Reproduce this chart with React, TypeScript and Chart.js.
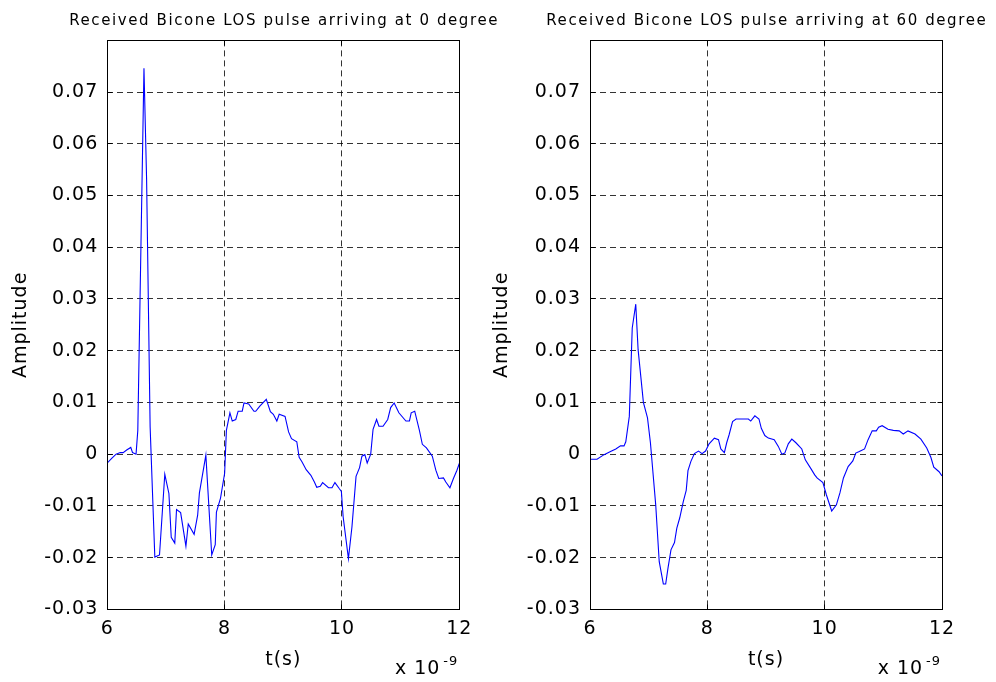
import React, { useEffect, useRef } from 'react';
import { Chart, registerables } from 'chart.js';

Chart.register(...registerables);

// ---- Data (time in units of 1e-9 s) ----
const tLeft = [
  6.0, 6.075, 6.15, 6.22, 6.27, 6.33, 6.4, 6.43, 6.49, 6.52, 6.625, 6.67, 6.73, 6.81, 6.89,
  6.98, 7.05, 7.09, 7.15, 7.18, 7.25, 7.34, 7.38, 7.48, 7.54, 7.57, 7.68, 7.78, 7.84, 7.86,
  7.93, 8.0, 8.03, 8.09, 8.13, 8.19, 8.23, 8.3, 8.33, 8.41, 8.5, 8.53, 8.6, 8.71, 8.78,
  8.83, 8.89, 8.93, 9.03, 9.09, 9.14, 9.23, 9.27, 9.32, 9.39, 9.47, 9.53, 9.57, 9.63, 9.67,
  9.77, 9.83, 9.88, 9.95, 9.99, 10.02, 10.11, 10.17, 10.24, 10.3, 10.34, 10.39, 10.43, 10.49, 10.53,
  10.59, 10.63, 10.7, 10.78, 10.83, 10.89, 10.97, 11.09, 11.15, 11.18, 11.24, 11.32, 11.37, 11.44, 11.54,
  11.6, 11.65, 11.73, 11.77, 11.84, 11.9, 11.96, 12.0,
];
const ampLeft = [
  -0.0017, -0.0008, 0.0, 0.0003, 0.0003, 0.0008, 0.0013, 0.0003, 0.0, 0.0046, 0.0746, 0.053, 0.0053, -0.0199, -0.0195,
  -0.0039, -0.0076, -0.0161, -0.0172, -0.0107, -0.0113, -0.0178, -0.0135, -0.0155, -0.0118, -0.0075, -0.0002, -0.0195, -0.0175, -0.0112,
  -0.0085, -0.0037, 0.0046, 0.008, 0.0064, 0.0067, 0.0083, 0.0083, 0.0099, 0.0097, 0.0083, 0.0083, 0.0093, 0.0106, 0.0082,
  0.0077, 0.0064, 0.0077, 0.0073, 0.0043, 0.003, 0.0024, -0.0006, -0.0015, -0.003, -0.0041, -0.0054, -0.0064, -0.0062, -0.0055,
  -0.0065, -0.0065, -0.0055, -0.0066, -0.0072, -0.0121, -0.0202, -0.0141, -0.0043, -0.0026, -0.0004, -0.0001, -0.0017, 0.0, 0.0048,
  0.0067, 0.0054, 0.0054, 0.0067, 0.009, 0.0099, 0.008, 0.0064, 0.0064, 0.008, 0.0083, 0.0046, 0.0019, 0.0012, -0.0004,
  -0.0031, -0.0047, -0.0046, -0.0054, -0.0065, -0.0047, -0.0031, -0.0018,
];

const tRight = [
  6.0, 6.12, 6.24, 6.35, 6.44, 6.52, 6.58, 6.61, 6.67, 6.72, 6.78, 6.82, 6.91, 6.98, 7.03,
  7.12, 7.18, 7.25, 7.29, 7.33, 7.38, 7.44, 7.48, 7.53, 7.59, 7.64, 7.67, 7.72, 7.78, 7.85,
  7.91, 7.97, 8.03, 8.12, 8.19, 8.23, 8.29, 8.33, 8.37, 8.43, 8.49, 8.7, 8.74, 8.81, 8.88,
  8.92, 8.98, 9.04, 9.14, 9.21, 9.27, 9.32, 9.38, 9.44, 9.51, 9.61, 9.67, 9.76, 9.83, 9.87,
  9.97, 10.03, 10.12, 10.2, 10.26, 10.32, 10.4, 10.48, 10.53, 10.59, 10.68, 10.74, 10.81, 10.88, 10.92,
  10.98, 11.08, 11.17, 11.27, 11.34, 11.42, 11.54, 11.64, 11.74, 11.81, 11.86, 11.95, 12.0,
];
const ampRight = [
  -0.001, -0.001, -0.0001, 0.0005, 0.001, 0.0016, 0.0016, 0.0024, 0.0073, 0.0244, 0.029, 0.0202, 0.01, 0.007, 0.0022,
  -0.0098, -0.0208, -0.0251, -0.0251, -0.022, -0.0185, -0.0171, -0.0143, -0.0123, -0.0092, -0.007, -0.0032, -0.0014, 0.0001, 0.0006,
  0.0001, 0.0006, 0.002, 0.0031, 0.0028, 0.001, 0.0003, 0.0022, 0.0037, 0.0063, 0.0068, 0.0068, 0.0064, 0.0074, 0.0068,
  0.005, 0.0036, 0.0031, 0.0028, 0.0015, 0.0, 0.0002, 0.002, 0.0029, 0.0022, 0.001, -0.0011, -0.0027, -0.004, -0.0046,
  -0.0055, -0.0079, -0.011, -0.0098, -0.0075, -0.0046, -0.0024, -0.0013, 0.0002, 0.0005, 0.001, 0.0028, 0.0045, 0.0045, 0.0052,
  0.0055, 0.0048, 0.0046, 0.0045, 0.0039, 0.0045, 0.0039, 0.0029, 0.0012, -0.0006, -0.0025, -0.0034, -0.0042,
];

const xTickValues = [6, 8, 10, 12];
const xTickLabels = ['6', '8', '10', '12'];
const yTickValues = [-0.03, -0.02, -0.01, 0, 0.01, 0.02, 0.03, 0.04, 0.05, 0.06, 0.07, 0.08];
const yTickLabels = ['-0.03', '-0.02', '-0.01', '0', '0.01', '0.02', '0.03', '0.04', '0.05', '0.06', '0.07', ''];
const titles = ['Received Bicone LOS pulse arriving at 0 degree', 'Received Bicone LOS pulse arriving at 60 degree'];
const xLabel = 't(s)';
const yLabel = 'Amplitude';
const expBase = 'x 10';
const expPower = '-9';

const FONT = '"DejaVu Sans", "Liberation Sans", Arial, sans-serif';

const align = (p: number) => Math.round(p + 0.5) - 0.5;

const matlabPlugin = {
  id: 'matlab',
  beforeDraw(chart: any) {
    (chart.ctx as any).letterSpacing = '1px';
  },
  afterDraw(chart: any, _args: any, opts: any) {
    const ctx = chart.ctx;
    const ca = chart.chartArea;
    const xs = chart.scales.x;
    const ys = chart.scales.y;
    const L = align(ca.left), R = align(ca.right), T = align(ca.top), B = align(ca.bottom);
    ctx.save();
    ctx.setLineDash([]);
    ctx.strokeStyle = '#000';
    ctx.lineWidth = 1;
    ctx.beginPath();
    ys.ticks.forEach((tk: any) => {
      const y = align(ys.getPixelForValue(tk.value));
      ctx.moveTo(L, y); ctx.lineTo(L + 5, y);
      ctx.moveTo(R, y); ctx.lineTo(R - 5, y);
    });
    xs.ticks.forEach((tk: any) => {
      const x = align(xs.getPixelForValue(tk.value));
      ctx.moveTo(x, B); ctx.lineTo(x, B - 5);
      ctx.moveTo(x, T); ctx.lineTo(x, T + 5);
    });
    ctx.stroke();
    ctx.strokeRect(L, T, R - L, B - T);

    ctx.fillStyle = '#000';
    // title
    (ctx as any).letterSpacing = '1.6px';
    ctx.font = `15px ${FONT}`;
    ctx.textAlign = 'center';
    ctx.textBaseline = 'alphabetic';
    ctx.fillText(opts.title, (ca.left + ca.right) / 2 + 0.8, 24.5);
    // exponent label
    (ctx as any).letterSpacing = '1px';
    ctx.textAlign = 'left';
    ctx.font = `19px ${FONT}`;
    ctx.fillText(expBase, ca.right - 64.3, ca.bottom + 64.7);
    ctx.font = `13px ${FONT}`;
    ctx.fillText(expPower, ca.right - 16, ca.bottom + 55.5);
    ctx.restore();
  },
};

function buildConfig(ts: number[], as: number[], title: string, padLeft: number, padRight: number, yWidth: number, yTitlePad: number): any {
  const gridColor = 'rgba(0,0,0,0.8)';
  return {
    type: 'line',
    data: {
      datasets: [
        {
          data: ts.map((t, i) => ({ x: t, y: as[i] })),
          borderColor: '#0000ff',
          borderWidth: 1.1,
          pointRadius: 0,
          tension: 0,
          fill: false,
        },
      ],
    },
    options: {
      animation: false,
      responsive: false,
      events: [],
      layout: { padding: { left: padLeft, right: padRight, top: 40.4, bottom: 0 } },
      plugins: {
        legend: { display: false },
        tooltip: { enabled: false },
        title: { display: false },
        matlab: { title },
      },
      scales: {
        x: {
          type: 'linear',
          min: 6,
          max: 12,
          afterBuildTicks: (s: any) => {
            s.ticks = xTickValues.map((v) => ({ value: v }));
          },
          afterFit: (s: any) => {
            s.height = 72.7;
          },
          grid: { color: gridColor, lineWidth: 1, drawTicks: false },
          border: { display: false, dash: [6, 4] },
          ticks: {
            padding: 8,
            color: '#000',
            font: { family: FONT, size: 19 },
            maxRotation: 0,
            autoSkip: false,
            callback: (_v: any, i: number) => xTickLabels[i],
          },
          title: {
            display: true,
            text: xLabel,
            color: '#000',
            font: { family: FONT, size: 19 },
            padding: { top: 0, bottom: 10.6 },
          },
        },
        y: {
          type: 'linear',
          min: -0.03,
          max: 0.08,
          afterBuildTicks: (s: any) => {
            s.ticks = yTickValues.map((v) => ({ value: v }));
          },
          afterFit: (s: any) => {
            s.width = yWidth;
          },
          grid: { color: gridColor, lineWidth: 1, drawTicks: false },
          border: { display: false, dash: [6, 4] },
          ticks: {
            padding: 9,
            color: '#000',
            font: { family: FONT, size: 19 },
            autoSkip: false,
            callback: (_v: any, i: number) => yTickLabels[i],
          },
          title: {
            display: true,
            text: yLabel,
            color: '#000',
            font: { family: FONT, size: 19 },
            padding: { top: yTitlePad, bottom: 0 },
          },
        },
      },
    },
    plugins: [matlabPlugin],
  };
}

export default function App() {
  const leftRef = useRef<HTMLCanvasElement>(null);
  const rightRef = useRef<HTMLCanvasElement>(null);

  useEffect(() => {
    const c1 = new Chart(leftRef.current as HTMLCanvasElement, buildConfig(tLeft, ampLeft, titles[0], 0, 536.7, 107.3, 9.6));
    const c2 = new Chart(rightRef.current as HTMLCanvasElement, buildConfig(tRight, ampRight, titles[1], 480, 54, 110, 10.6));
    return () => {
      c1.destroy();
      c2.destroy();
    };
  }, []);

  const cs: React.CSSProperties = { position: 'absolute', left: 0, top: 0, width: 996, height: 682 };
  return (
    <div style={{ position: 'absolute', left: 0, top: 0, width: 996, height: 682, background: '#fff', overflow: 'hidden' }}>
      <canvas ref={leftRef} width={996} height={682} style={cs} />
      <canvas ref={rightRef} width={996} height={682} style={cs} />
    </div>
  );
}
